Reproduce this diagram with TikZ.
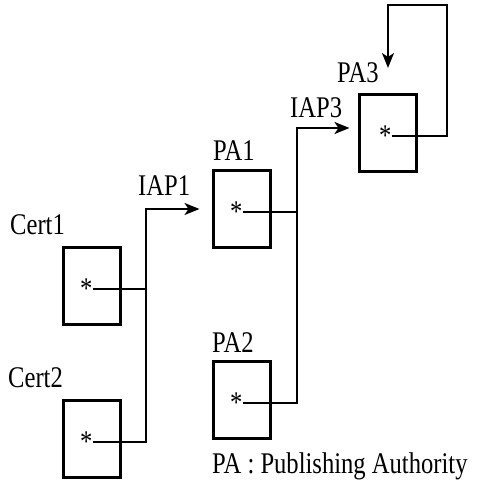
\documentclass[tikz,border=0pt]{standalone}
\usepackage{fontspec}
\setmainfont[FakeStretch=0.82]{Liberation Serif}
\usetikzlibrary{arrows.meta,positioning}

\begin{document}
\begin{tikzpicture}[x=1pt,y=-1pt,
    certbox/.style={draw,line width=3pt,minimum width=57pt,minimum height=77pt,inner sep=0pt},
    starmark/.style={anchor=east,inner sep=0pt,font=\fontsize{30}{30}\selectfont},
    lbl/.style={anchor=base west,inner sep=0pt,font=\fontsize{30}{30}\selectfont},
    link/.style={line width=2pt},
    tip/.style={link,-{Stealth[length=15pt,width=12pt,inset=4pt]}}]
  \useasboundingbox (0,0) rectangle (483,482);
  % certificates
  \node[certbox] (cert1) at (91.5,285.5) {};
  \node[certbox] (cert2) at (91.5,438.5) {};
  \node[starmark] (s1) at ([xshift=1pt,yshift=-3pt]cert1.center) {*};
  \node[starmark] (s2) at ([xshift=1pt,yshift=-3pt]cert2.center) {*};
  % publishing authorities
  \node[certbox] (pa1) at (241.5,208.5) {};
  \node[certbox] (pa2) at (241.5,399.5) {};
  \node[certbox] (pa3) at (387.5,133) {};
  \node[starmark] (s3) at ([xshift=1pt,yshift=-3pt]pa1.center) {*};
  \node[starmark] (s4) at ([xshift=1pt,yshift=-3pt]pa2.center) {*};
  \node[starmark] (s5) at ([xshift=4pt,yshift=-3pt]pa3.center) {*};
  % labels
  \node[lbl] (l1) at (10,234) {Cert1};
  \node[lbl] (l2) at (8,387) {Cert2};
  \node[lbl] (l3) at (213,160) {PA1};
  \node[lbl] (l4) at (212,352) {PA2};
  \node[lbl] (l5) at (337,82) {PA3};
  \node[lbl] (l6) at (138,195) {IAP1};
  \node[lbl] (l7) at (290,117) {IAP3};
  \node[lbl] (legend) at (212,473) {PA : Publishing Authority};
  % connectors
  \coordinate (j1) at (146,209);
  \coordinate (j2) at (297,128);
  \coordinate (top) at (447,5);
  \coordinate (end) at (388,68);
  \draw[link] (s1.east) -- (s1.east -| j1);
  \draw[tip] (s2.east) -| (j1) -- ([xshift=-12pt]pa1.west |- j1);
  \draw[link] (s3.east) -- (s3.east -| j2);
  \draw[tip] (s4.east) -| (j2) -- ([xshift=-8pt]pa3.west |- j2);
  \draw[tip] (s5.east) -| (top) -| (end);
\end{tikzpicture}
\end{document}
